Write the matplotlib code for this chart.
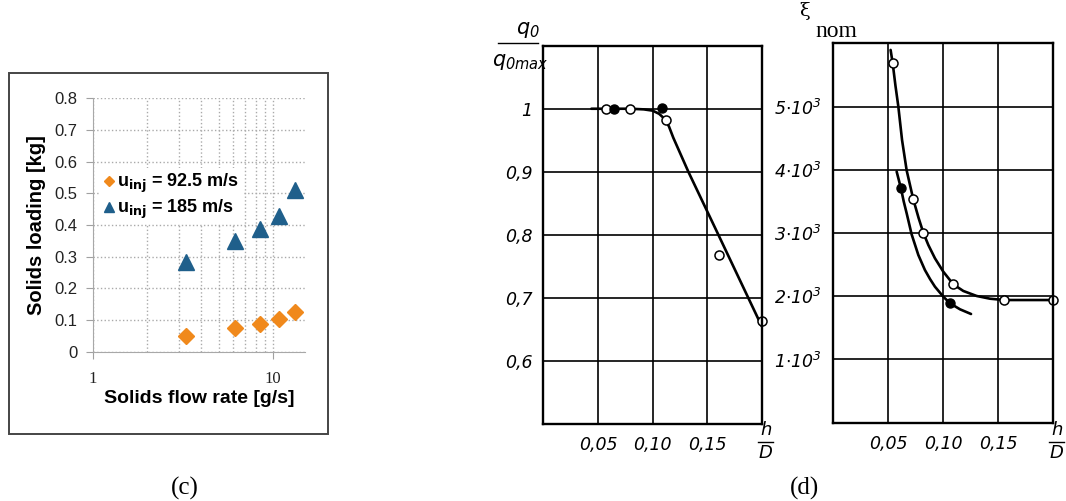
import matplotlib
matplotlib.use("Agg")
import matplotlib.pyplot as plt
from matplotlib.patches import Rectangle
from matplotlib.lines import Line2D

plt.rcParams['mathtext.fontset'] = 'custom'
plt.rcParams['mathtext.it'] = 'Liberation Sans Narrow:italic'
plt.rcParams['mathtext.rm'] = 'Liberation Sans Narrow:italic'

# ---- panel (c): Excel scatter ----
flow_rate = [3.3, 6.1, 8.4, 10.8, 13.2]
loading_925 = [0.049, 0.074, 0.087, 0.104, 0.126]
loading_185 = [0.282, 0.348, 0.386, 0.428, 0.510]
c_yticks = [0, 0.1, 0.2, 0.3, 0.4, 0.5, 0.6, 0.7, 0.8]
c_ylabels = ["0", "0.1", "0.2", "0.3", "0.4", "0.5", "0.6", "0.7", "0.8"]

# ---- panel (d) left: q0/q0max vs h/D ----
q_open_x = [0.057, 0.079, 0.112, 0.161, 0.200]
q_open_y = [1.0, 1.0, 0.982, 0.768, 0.663]
q_fill_x = [0.065, 0.109]
q_fill_y = [1.0, 1.001]
q_curve_x = [0.044, 0.080, 0.092, 0.100, 0.106, 0.111, 0.115, 0.119, 0.1328, 0.1603, 0.1863, 0.200]
q_curve_y = [1.0, 1.0, 0.999, 0.997, 0.992, 0.984, 0.972, 0.954, 0.90, 0.80, 0.705, 0.655]
q_yticks = [0.6, 0.7, 0.8, 0.9, 1.0]
q_ylabels = ["0,6", "0,7", "0,8", "0,9", "1"]

# ---- panel (d) right: xi_nom vs h/D ----
xi_open_x = [0.054, 0.0727, 0.0818, 0.1091, 0.1555, 0.1994]
xi_open_y = [5684, 3533, 3005, 2188, 1940, 1940]
xi_fill_x = [0.0615, 0.1061]
xi_fill_y = [3707, 1888]
xi_up_x = [0.0521, 0.054, 0.0565, 0.0591, 0.0625, 0.0667, 0.0727, 0.0775, 0.0818, 0.0864,
           0.0924, 0.100, 0.1091, 0.1182, 0.1303, 0.1424, 0.1555, 0.1994]
xi_up_y = [5895, 5684, 5330, 5003, 4470, 3989, 3533, 3240, 3005, 2810,
           2600, 2388, 2188, 2083, 2004, 1961, 1940, 1940]
xi_lo_x = [0.0576, 0.0615, 0.0640, 0.0667, 0.0712, 0.0773, 0.0833, 0.0880, 0.0924,
           0.100, 0.1061, 0.1152, 0.1252]
xi_lo_y = [3971, 3707, 3500, 3311, 2979, 2652, 2414, 2270, 2151,
           1993, 1888, 1793, 1719]
xi_yticks = [1000, 2000, 3000, 4000, 5000]
xi_ylabels = [r"$%d{\cdot}10^{3}$" % k for k in range(1, 6)]

hd_ticks = [0.05, 0.10, 0.15]
hd_labels = ["0,05", "0,10", "0,15"]

fig = plt.figure(figsize=(10.66, 5.01), dpi=100)

# frame around (c)
fig.patches.append(Rectangle((0.0084, 0.1337), 0.2993, 0.7206, transform=fig.transFigure,
                             fill=False, edgecolor='#454545', lw=1.4))

ax = fig.add_axes([0.0872, 0.298, 0.1989, 0.5058])
ax.set_xscale('log')
ax.plot(flow_rate, loading_925, 'D', color='#f0891c', ms=8, mec='#f0891c',
        label=r"u$_{\mathbf{inj}}$ = 92.5 m/s", linestyle='none')
ax.plot(flow_rate, loading_185, '^', color='#1f5f8b', ms=11, mec='#1f5f8b',
        label=r"u$_{\mathbf{inj}}$ = 185 m/s", linestyle='none')
ax.set_xlim(1, 15)
ax.set_ylim(0, 0.8)
ax.set_yticks(c_yticks)
ax.set_yticklabels(c_ylabels, family='Liberation Sans', fontsize=12, color='#222222')
ax.set_xticks([1, 10])
ax.set_xticklabels(["1", "10"], family='Liberation Serif', fontsize=12, color='#222222')
ax.set_xticks([2, 3, 4, 5, 6, 7, 8, 9], minor=True)
ax.set_xticklabels([], minor=True)
ax.tick_params(which='major', length=5, color='#a0a0a0', width=0.8, pad=6)
ax.tick_params(axis='x', which='major', pad=9)
ax.tick_params(which='minor', length=0)
ax.grid(which='both', color='#aaaaaa', linestyle=':', lw=1.0)
for s in ['top', 'right']:
    ax.spines[s].set_visible(False)
for s in ['left', 'bottom']:
    ax.spines[s].set_color('#a8a8a8')
    ax.spines[s].set_linewidth(0.8)
ax.set_ylabel("Solids loading [kg]", family='Liberation Sans', fontweight='bold', fontsize=14.5, labelpad=6)
ax.set_xlabel("Solids flow rate [g/s]", family='Liberation Sans', fontweight='bold', fontsize=14, labelpad=2)
leg = ax.legend(loc='upper left', bbox_to_anchor=(-0.01, 0.76), frameon=True, framealpha=1,
                edgecolor='none', markerscale=0.6, handlelength=0.6, handletextpad=0.15,
                borderpad=0.2, labelspacing=0.15, prop={'family': 'Liberation Sans', 'weight': 'bold', 'size': 13})

fig.text(0.1735, 0.026, "(c)", family='Liberation Serif', fontsize=18, ha='center', va='center')
fig.text(0.755, 0.026, "(d)", family='Liberation Serif', fontsize=18, ha='center', va='center')


def style_sketch(a):
    a.set_xlim(0, 0.2)
    a.set_xticks(hd_ticks)
    a.set_xticklabels(hd_labels, family='Liberation Sans Narrow', style='italic', fontsize=12.5)
    for lbl in a.get_yticklabels():
        lbl.set_family('Liberation Sans Narrow')
        lbl.set_style('italic')
    a.tick_params(length=0, labelsize=12.5)
    a.tick_params(axis='x', pad=9)
    a.tick_params(axis='y', pad=8)
    a.grid(True, color='black', lw=1.2)
    a.set_axisbelow(True)
    for s in a.spines.values():
        s.set_linewidth(1.7)


# (d) left
ax2 = fig.add_axes([0.5097, 0.1537, 0.2049, 0.7551])
ax2.plot(q_curve_x, q_curve_y, color='black', lw=1.9, solid_capstyle='round')
ax2.plot(q_open_x, q_open_y, 'o', mfc='white', mec='black', ms=6.5, mew=1.1, clip_on=False)
ax2.plot(q_fill_x, q_fill_y, 'o', color='black', ms=6.5, clip_on=False)
ax2.set_ylim(0.5, 1.1)
ax2.set_yticks(q_yticks)
ax2.set_yticklabels(q_ylabels)
style_sketch(ax2)
fig.text(0.4955, 0.94, r"$q_0$", fontsize=15, ha='center', va='center')
fig.add_artist(Line2D([0.467, 0.505], [0.914, 0.914], color='black', lw=1.0))
fig.text(0.488, 0.877, r"$q_{0max}$", fontsize=15, ha='center', va='center')
fig.text(0.7185, 0.141, r"$h$", fontsize=13, ha='center', va='center')
fig.add_artist(Line2D([0.7115, 0.7255], [0.118, 0.118], color='black', lw=1.0))
fig.text(0.7185, 0.095, r"$D$", fontsize=13, ha='center', va='center')

# (d) right
ax3 = fig.add_axes([0.7817, 0.1563, 0.2064, 0.7573])
ax3.plot(xi_up_x, xi_up_y, color='black', lw=1.9, solid_capstyle='round')
ax3.plot(xi_lo_x, xi_lo_y, color='black', lw=1.9, solid_capstyle='round')
ax3.plot(xi_open_x, xi_open_y, 'o', mfc='white', mec='black', ms=6.5, mew=1.1, clip_on=False)
ax3.plot(xi_fill_x, xi_fill_y, 'o', color='black', ms=6.5, clip_on=False)
ax3.set_ylim(0, 6000)
ax3.set_yticks(xi_yticks)
ax3.set_yticklabels(xi_ylabels)
style_sketch(ax3)
fig.text(0.7545, 0.978, "ξ", family='DejaVu Serif', fontsize=14, ha='center', va='center')
fig.text(0.785, 0.937, "nom", family='Liberation Serif', fontsize=17, ha='center', va='center')
fig.text(0.9915, 0.141, r"$h$", fontsize=13, ha='center', va='center')
fig.add_artist(Line2D([0.9845, 0.9985], [0.118, 0.118], color='black', lw=1.0))
fig.text(0.9915, 0.095, r"$D$", fontsize=13, ha='center', va='center')

fig.savefig("out.png", dpi=100)
